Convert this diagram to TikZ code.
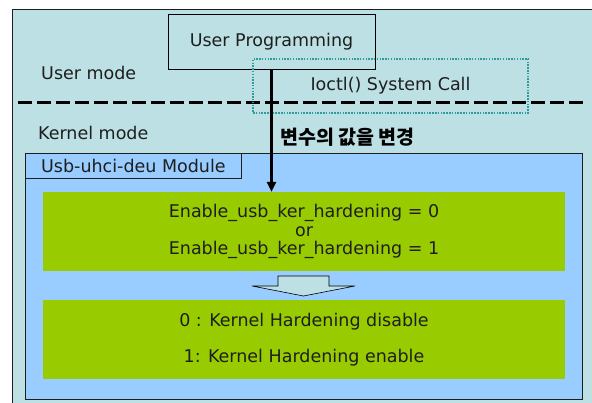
\documentclass[tikz,border=0pt]{standalone}
\usepackage{fontspec}
\setmainfont{DejaVu Sans}
\newfontfamily\hangul{Noto Sans CJK KR}
\usetikzlibrary{positioning}
\usetikzlibrary{arrows.meta}
\definecolor{bgcyan}{HTML}{BCE0E3}
\definecolor{modblue}{HTML}{99CCFF}
\definecolor{boxgreen}{HTML}{99CC00}
\definecolor{callteal}{HTML}{2F9C9C}
\definecolor{inkgray}{HTML}{1E1E1E}

\begin{document}
\begin{tikzpicture}[x=1pt, y=-1pt, font=\fontsize{17.5}{18.5}\selectfont, text=inkgray,
    greenbox/.style={fill=boxgreen, minimum width=522pt, minimum height=79pt, inner sep=0pt, align=center}]
    \useasboundingbox (0,0) rectangle (592,403);
    \fill[bgcyan] (12.5,9) rectangle (592,403);
    \draw[inkgray, line width=0.8pt] (12.5,403) -- (12.5,9) -- (592,9);

    \node[anchor=west, inner sep=0pt] (usermode) at (41,73) {User mode};
    \node[anchor=west, inner sep=0pt] (kernelmode) at (38,133) {Kernel mode};

    \node[draw, rectangle, line width=0.9pt, minimum width=207pt, minimum height=55pt, inner sep=0pt] (userprog) at (271.5,41.5) {User Programming};

    \draw[line width=3pt, dash pattern=on 14pt off 5pt] (18,103) -- (583,103);

    \node[draw=callteal, rectangle, line width=1.1pt, dash pattern=on 1.5pt off 1.3pt, minimum width=275pt, minimum height=54pt, inner sep=0pt] (ioctl) at (390.5,86) {Ioctl() System Call};

    \node[anchor=west, inner sep=0pt, font=\hangul\bfseries\fontsize{19.5}{21}\selectfont, text=black] (change) at (280,137) {변수의 값을 변경};

    \node[draw=inkgray, rectangle, line width=0.8pt, fill=modblue, minimum width=557pt, minimum height=246pt, inner sep=0pt, anchor=north west] (module) at (25,153) {};
    \node[draw=inkgray, rectangle, line width=0.8pt, minimum width=216pt, minimum height=25pt, inner sep=0pt, anchor=north west] (modlabel) at (module.north west) {Usb-uhci-deu Module};

    \node[greenbox] (setbox) at (304,231.5) {Enable\_usb\_ker\_hardening = 0\\or\\Enable\_usb\_ker\_hardening = 1};
    \node[greenbox] (statebox) at (304,339.5) {0 : Kernel Hardening disable\\[17.5pt]1: Kernel Hardening enable};

    \draw[fill=bgcyan, line width=0.6pt] (278,276) -- (329,276) -- (329,286) -- (355,286) -- (303.5,296) -- (252,286) -- (278,286) -- cycle;

    \draw[line width=3.2pt, -{Triangle[length=10pt, width=9pt]}] (userprog.south) -- (userprog.south |- setbox.north);
\end{tikzpicture}
\end{document}
